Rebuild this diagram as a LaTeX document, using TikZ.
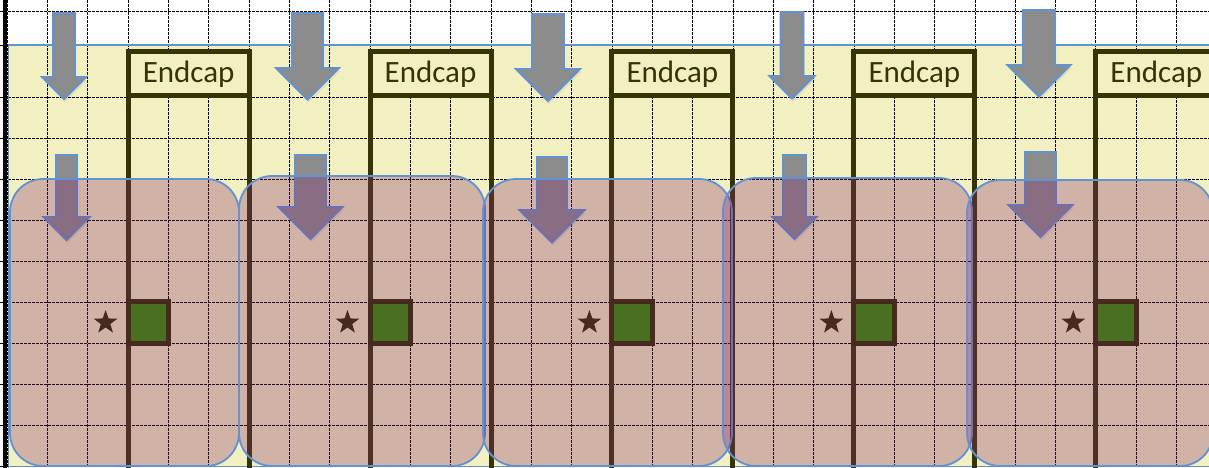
\documentclass[tikz,border=0pt]{standalone}
\usepackage{fontspec}
\setmainfont{Carlito}
\usetikzlibrary{positioning,shapes.geometric,shadows}

\definecolor{capyellow}{RGB}{242,239,192}
\definecolor{capolive}{RGB}{54,52,6}
\definecolor{capblue}{RGB}{96,146,212}
\definecolor{capgray}{RGB}{140,140,140}
\definecolor{capbrown}{RGB}{70,42,31}
\definecolor{capgreen}{RGB}{72,112,32}
\definecolor{zonetint}{RGB}{132,39,112}

\begin{document}
\begin{tikzpicture}[x=1pt, y=-1pt,
    gridline/.style = {black, line width=0.7pt, dash pattern=on 3pt off 1pt},
    capbox/.style = {draw=capolive, fill=capyellow, text=capolive, line width=5pt, minimum width=121pt, minimum height=43.5pt, inner sep=0pt, outer sep=0pt, font=\fontsize{31}{36}\selectfont},
    capline/.style = {capolive, line width=5pt},
    feed/.style = {fill=capgray, draw=capblue, line width=1.8pt, line join=miter, drop shadow={opacity=0.15, shadow xshift=1pt, shadow yshift=-3pt}},
    zone/.style = {fill=zonetint, fill opacity=0.3, draw=capblue, draw opacity=1, line width=1.8pt, rounded corners=33pt},
    plug/.style = {draw=capbrown, fill=capgreen, line width=5pt, minimum width=40.4pt, minimum height=42pt, inner sep=0pt, outer sep=0pt},
    starsign/.style = {star, star points=5, star point ratio=2.5, fill=capbrown, minimum size=25pt, inner sep=0pt}]
    \useasboundingbox (0,0) rectangle (1209,468);
    \clip (0,0) rectangle (1209,468);

    \fill[white] (0,0) rectangle (1209,468);
    \fill[capyellow] (8,45) rectangle (1215,466.5);
    \foreach \k in {0,...,29} \draw[gridline] ({7.18+40.32*\k},0) -- ({7.18+40.32*\k},468);
    \foreach \y in {11,45,97,138,179,220,261,302,343,384,425,466} \draw[gridline] (0,\y) -- (1209,\y);
    \draw[capblue, line width=1.5pt] (8.5,468) -- (8.5,45) -- (1215,45);
    \draw[capblue, line width=1.5pt] (8,466.5) -- (1215,466.5);
    \draw[line width=3.5pt] (5,0) -- (5,468);

    \coordinate (bottom) at (0,468);
    \node[capbox] (cap1) at (188.6,73.75) {Endcap};
    \node[capbox] (cap2) at (430.5,73.75) {Endcap};
    \node[capbox] (cap3) at (672.4,73.75) {Endcap};
    \node[capbox] (cap4) at (914.4,73.75) {Endcap};
    \node[capbox] (cap5) at (1156.3,73.75) {Endcap};
    \foreach \i in {1,...,5} {
        \draw[capline] (cap\i.south west) -- (cap\i.south west |- bottom);
        \draw[capline] (cap\i.south east) -- (cap\i.south east |- bottom);
    }

    \foreach \cx/\sw/\ya/\yb/\hw/\yc in {64/11/13/77/22/99, 307.5/15.5/13/68/31.5/99.5, 548/16/14/69/32/101,
        792/11.5/12/76/22.5/98.5, 1039/16/10/65/31.5/96.5,
        66.5/10.5/155/217/23/240, 310.5/15.5/155/207/32/239, 552/15/157/210/32.5/242.5,
        794.5/11.5/155/217/22/239, 1040.5/15.5/152/205/32/237}
        \draw[feed] (\cx-\sw,\ya) -- (\cx+\sw,\ya) -- (\cx+\sw,\yb) -- (\cx+\hw,\yb) -- (\cx,\yc) -- (\cx-\hw,\yb) -- (\cx-\sw,\yb) -- cycle;

    \draw[zone] (10,179) rectangle (239,466);
    \draw[zone] (239,176) rectangle (485,466);
    \draw[zone] (483,179) rectangle (732,466);
    \draw[zone] (723,178) rectangle (972,466);
    \draw[zone] (967,180) rectangle (1213,466);

    \node[plug] (plug1) at (148.3,322.5) {};
    \node[plug] (plug2) at (390.2,322.5) {};
    \node[plug] (plug3) at (632.1,322.5) {};
    \node[plug] (plug4) at (874.1,322.5) {};
    \node[plug] (plug5) at (1116.0,322.5) {};
    \node[starsign, left=22.5pt of plug1.west, anchor=center] (star1) {};
    \node[starsign, left=22.5pt of plug2.west, anchor=center] (star2) {};
    \node[starsign, left=22.5pt of plug3.west, anchor=center] (star3) {};
    \node[starsign, left=22.5pt of plug4.west, anchor=center] (star4) {};
    \node[starsign, left=22.5pt of plug5.west, anchor=center] (star5) {};
\end{tikzpicture}
\end{document}
